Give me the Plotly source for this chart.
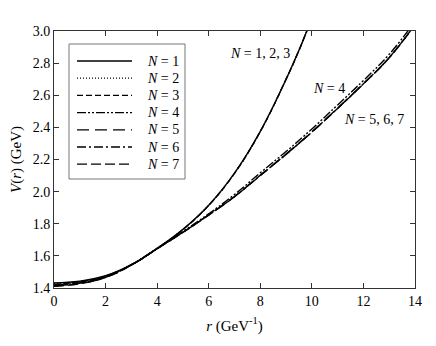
import plotly.graph_objects as go

# r grids (GeV^-1)
r_steep = [0, 1, 2, 3, 4, 5, 6, 7, 8, 9, 9.5, 10]
r_flat = [0, 1, 2, 3, 4, 5, 6, 7, 8, 9, 10, 11, 12, 13, 14]

# V(r) in GeV
v_n1 = [1.432, 1.442, 1.476, 1.545, 1.647, 1.765, 1.915, 2.115, 2.375, 2.700, 2.880, 3.080]
v_n2 = [1.428, 1.440, 1.475, 1.545, 1.647, 1.765, 1.915, 2.115, 2.375, 2.700, 2.880, 3.080]
v_n3 = [1.424, 1.437, 1.473, 1.544, 1.646, 1.764, 1.914, 2.114, 2.374, 2.699, 2.879, 3.079]
v_n4 = [1.418, 1.432, 1.470, 1.545, 1.647, 1.752, 1.862, 1.982, 2.117, 2.250, 2.390, 2.540, 2.692, 2.855, 3.060]
v_n5 = [1.416, 1.430, 1.468, 1.543, 1.645, 1.747, 1.855, 1.970, 2.102, 2.234, 2.372, 2.520, 2.673, 2.835, 3.040]
v_n6 = [1.414, 1.429, 1.467, 1.543, 1.645, 1.747, 1.855, 1.969, 2.101, 2.233, 2.371, 2.519, 2.672, 2.834, 3.040]
v_n7 = [1.411, 1.427, 1.466, 1.542, 1.644, 1.746, 1.854, 1.968, 2.100, 2.232, 2.370, 2.518, 2.671, 2.833, 3.040]

series = [
    ("1", r_steep, v_n1, "solid"),
    ("2", r_steep, v_n2, "1px,2px"),
    ("3", r_steep, v_n3, "6px,3px"),
    ("4", r_flat, v_n4, "9px,2px,2px,2px,2px,2px"),
    ("5", r_flat, v_n5, "12px,6px"),
    ("6", r_flat, v_n6, "9px,3px,2px,3px"),
    ("7", r_flat, v_n7, "10px,4px"),
]

x_ticks = [0, 2, 4, 6, 8, 10, 12, 14]
y_ticks = [1.4, 1.6, 1.8, 2.0, 2.2, 2.4, 2.6, 2.8, 3.0]

SERIF = "Times New Roman, Liberation Serif, DejaVu Serif, serif"
# the page body adds an 8px margin, so the figure is 8px smaller and offset
W, H = 428, 338
L, R, T, B = 46, 21, 23, 58
# plot area as seen on the page
PX0, PX1, PY0, PY1 = 54, 415, 31, 288


def px_to_paper(px, py):
    return (px - PX0) / (PX1 - PX0), (PY1 - py) / (PY1 - PY0)


fig = go.Figure()
for n, r, v, dash in series:
    fig.add_trace(go.Scatter(
        x=r, y=v, mode="lines",
        line=dict(color="black", width=1.4, dash=dash, shape="spline", smoothing=1.2),
        name=f"N = {n}", showlegend=False,
    ))

# curve labels
labels = [
    ("<i>N</i> = 1, 2, 3", 260, 53),
    ("<i>N</i> = 4", 329, 88),
    ("<i>N</i> = 5, 6, 7", 374, 119),
]
for text, px, py in labels:
    xp, yp = px_to_paper(px, py)
    fig.add_annotation(
        x=xp, y=yp, xref="paper", yref="paper", text=text, showarrow=False,
        font=dict(family=SERIF, size=14, color="black"),
        xanchor="center", yanchor="middle",
    )

# legend drawn by hand so the box and spacing match
x0, y0 = px_to_paper(69, 44)
x1, y1 = px_to_paper(185, 179)
fig.add_shape(type="rect", xref="paper", yref="paper", x0=x0, y0=y0, x1=x1, y1=y1,
              line=dict(color="#777", width=1), fillcolor="white", layer="above")
for i, (n, r, v, dash) in enumerate(series):
    py = 61 + 17.2 * i
    lx0, ly = px_to_paper(77, py)
    lx1, _ = px_to_paper(132, py)
    fig.add_shape(type="line", xref="paper", yref="paper", x0=lx0, y0=ly, x1=lx1, y1=ly,
                  line=dict(color="black", width=1.3, dash=dash), layer="above")
    tx, ty = px_to_paper(145, py)
    fig.add_annotation(
        x=tx, y=ty, xref="paper", yref="paper", text=f"<i>N</i> = {n}", showarrow=False,
        font=dict(family=SERIF, size=14, color="black"),
        xanchor="left", yanchor="middle",
    )

axis_common = dict(
    showline=True, linecolor="#333", linewidth=1, mirror="ticks",
    ticks="inside", ticklen=5, tickcolor="#333", showgrid=False, zeroline=False,
    tickfont=dict(family=SERIF, size=14, color="black"),
    automargin=False,
)

fig.update_layout(
    width=W, height=H,
    paper_bgcolor="white", plot_bgcolor="white",
    margin=dict(l=L, r=R, t=T, b=B),
    showlegend=False,
    font=dict(family=SERIF),
    xaxis=dict(
        range=[0, 14], tickvals=x_ticks, ticktext=[str(t) for t in x_ticks],
        title=dict(text="<i>r</i> (GeV<sup>-1</sup>)", font=dict(family=SERIF, size=15, color="black"), standoff=12),
        **axis_common,
    ),
    yaxis=dict(
        range=[1.4, 3.0], tickvals=y_ticks, ticktext=[f"{t:.1f}" for t in y_ticks],
        title=dict(text="<i>V</i>(<i>r</i>) (GeV)", font=dict(family=SERIF, size=15, color="black"), standoff=8),
        **axis_common,
    ),
)

fig.write_html("out.html")
